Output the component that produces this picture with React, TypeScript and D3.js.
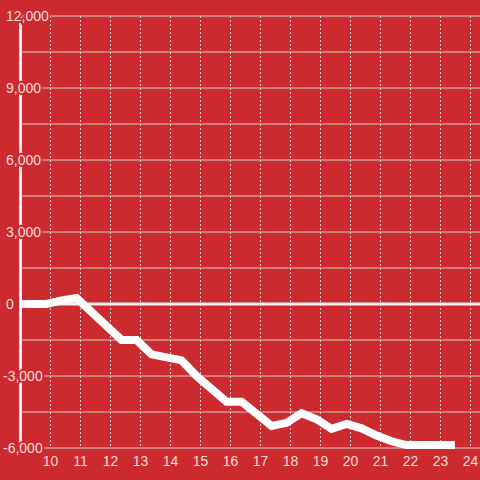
import React from 'react';
import * as d3 from 'd3';

// hour of day (decimal) and running balance
const hours = [9.0, 9.87, 10.37, 10.87, 12.37, 12.87, 13.37, 14.37, 14.87, 15.87, 16.37, 17.37, 17.87, 18.37, 18.87, 19.37, 19.87, 20.37, 20.87, 21.37, 21.87, 23.48];
const balance = [0, 0, 150, 250, -1500, -1500, -2100, -2350, -3000, -4070, -4070, -5080, -4950, -4550, -4800, -5200, -5000, -5180, -5480, -5720, -5880, -5880];

const xTicks = [10, 11, 12, 13, 14, 15, 16, 17, 18, 19, 20, 21, 22, 23, 24];
const yLabelTicks = [12000, 9000, 6000, 3000, 0, -3000, -6000];
const yGridTicks = d3.range(-6000, 12001, 1500);

const W = 480;
const H = 480;
const BG = '#cd2a2f';
const TEXT = '#f6dcdc';
const GRID = '#d2cfcf';

export default function App() {
  const x = d3.scaleLinear().domain([9, 24.3]).range([20.5, 479.5]);
  const y = d3.scaleLinear().domain([-6000, 12000]).range([448, 16]);

  const points = hours.map((h, i) => [h, balance[i]] as [number, number]);
  const line = d3.line<[number, number]>()
    .x(d => x(d[0]))
    .y(d => y(d[1]));

  // background-coloured halo so labels cut through axis and grid
  const halo = {
    stroke: BG,
    strokeWidth: 4,
    paintOrder: 'stroke' as const,
    strokeLinejoin: 'round' as const,
  };

  return (
    <svg
      width={W}
      height={H}
      style={{ position: 'fixed', top: 0, left: 0, display: 'block' }}
      fontFamily="'Liberation Sans', Arial, sans-serif"
      fontSize={14}
    >
      <rect width={W} height={H} fill={BG} />

      {/* horizontal grid */}
      {yGridTicks.map(t => (
        <line key={'h' + t} x1={20.5} x2={W} y1={y(t)} y2={y(t)} stroke={GRID} strokeWidth={1} />
      ))}

      {/* vertical dashed grid */}
      {xTicks.map(t => (
        <line key={'v' + t} x1={x(t)} x2={x(t)} y1={y(12000)} y2={y(-6000)}
          stroke={GRID} strokeWidth={1} strokeDasharray="2,2" />
      ))}

      {/* y axis */}
      <line x1={20.5} x2={20.5} y1={y(12000)} y2={y(-6000)} stroke="#f2eeee" strokeWidth={3} />

      {/* zero line */}
      <line x1={20.5} x2={W} y1={y(0)} y2={y(0)} stroke="#f4f0f0" strokeWidth={3} />

      {/* data */}
      <path d={line(points) ?? ''} fill="none" stroke="#ffffff" strokeWidth={8}
        strokeLinejoin="miter" strokeLinecap="butt" />

      {/* y labels */}
      {yLabelTicks.map(t => (
        <text key={'yl' + t} x={t < 0 ? 3 : 6} y={y(t)} dy="0.35em" fill={TEXT} {...halo}>
          {d3.format(',')(t).replace('−', '-')}
        </text>
      ))}

      {/* x labels */}
      {xTicks.map(t => (
        <text key={'xl' + t} x={x(t)} y={466} textAnchor="middle" fill={TEXT}>
          {t}
        </text>
      ))}
    </svg>
  );
}
